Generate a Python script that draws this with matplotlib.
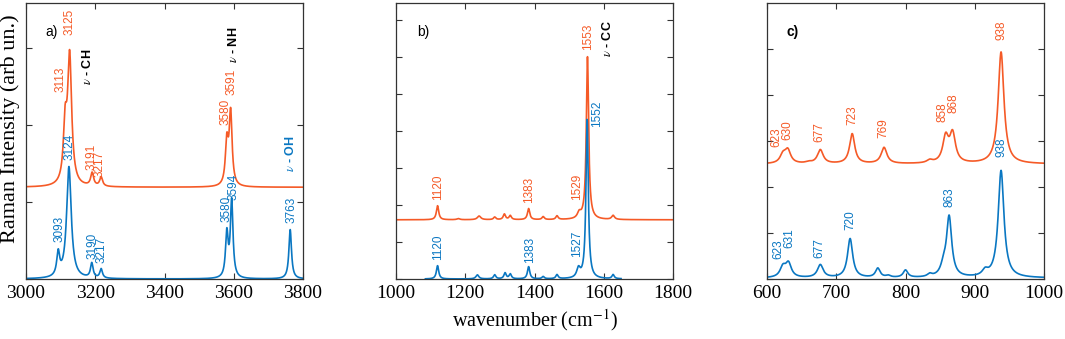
import numpy as np
import matplotlib
matplotlib.use("Agg")
import matplotlib.pyplot as plt

plt.rcParams['mathtext.fontset'] = 'stix'

ORANGE = '#F55A27'
BLUE = '#0A77C2'

# peak tables: (position cm-1, height, half width)
# panel a) 3000-3800
a_orange_base = 1.19
a_orange = [(3113, 0.7, 6), (3126, 1.66, 7), (3191, 0.17, 5), (3217, 0.12, 5),
            (3580, 0.55, 5), (3591, 0.94, 5)]
a_blue_base = 0.0
a_blue = [(3093, 0.3, 5), (3124, 1.45, 8), (3190, 0.19, 4.5), (3217, 0.12, 4.5),
          (3580, 0.57, 4.5), (3594, 1.0, 4.5), (3763, 0.64, 4.5)]

# panel b) 1000-1800
b_orange_base = 1.6
b_orange = [(1120, 0.38, 4), (1180, 0.03, 5), (1240, 0.10, 6), (1285, 0.07, 4),
            (1313, 0.15, 4), (1330, 0.11, 4), (1383, 0.30, 4), (1425, 0.08, 4),
            (1465, 0.10, 4), (1529, 0.15, 6), (1553, 4.4, 4), (1627, 0.11, 5)]
b_blue_base = 0.0
b_blue_range = (1085, 1650)
b_blue = [(1120, 0.36, 4), (1235, 0.11, 5), (1285, 0.11, 4), (1315, 0.16, 4),
          (1330, 0.13, 4), (1383, 0.33, 4), (1425, 0.06, 4), (1465, 0.11, 4),
          (1527, 0.25, 6), (1552, 4.3, 4), (1627, 0.11, 4)]

# panel c) 600-1000
c_orange_base = 2.5
c_orange = [(623, 0.18, 5), (630, 0.28, 5), (660, 0.03, 5), (677, 0.3, 5),
            (723, 0.65, 4.5), (769, 0.35, 5), (835, 0.06, 5), (858, 0.55, 5),
            (868, 0.62, 5), (938, 2.43, 5)]
c_blue_base = 0.02
c_blue = [(623, 0.22, 5), (631, 0.3, 5), (677, 0.28, 5), (720, 0.85, 4.5),
          (760, 0.2, 4), (775, 0.04, 4), (800, 0.16, 4), (835, 0.06, 4),
          (855, 0.2, 5), (863, 1.3, 4.5), (915, 0.12, 5), (938, 2.33, 5)]

# peak labels: (text, x, y of label bottom)
a_orange_labels = [("3113", 3101, 2.43), ("3125", 3127, 3.17), ("3191", 3189, 1.41),
                   ("3217", 3211, 1.32), ("3580", 3575, 2.0), ("3591", 3595, 2.39)]
a_blue_labels = [("3093", 3098, 0.48), ("3124", 3127, 1.55), ("3190", 3191, 0.26),
                 ("3217", 3218, 0.21), ("3580", 3578, 0.74), ("3594", 3598, 1.03),
                 ("3763", 3766, 0.73)]
b_orange_labels = [("1120", 1121, 2.14), ("1383", 1384, 2.05), ("1529", 1523, 2.14),
                   ("1553", 1555, 6.19)]
b_blue_labels = [("1120", 1121, 0.51), ("1383", 1387, 0.43), ("1527", 1523, 0.59),
                 ("1552", 1581, 4.1)]
c_orange_labels = [("623", 614, 2.87), ("630", 630, 3.02), ("677", 675, 2.98),
                   ("723", 723, 3.35), ("769", 768, 3.07), ("858", 854, 3.41),
                   ("868", 870, 3.61), ("938", 939, 5.2)]
c_blue_labels = [("623", 617, 0.43), ("631", 633, 0.67), ("677", 675, 0.46),
                 ("720", 720, 1.07), ("863", 863, 1.57), ("938", 939, 2.65)]


def spectrum(x, base, peaks):
    y = np.full_like(x, base)
    for pos, h, w in peaks:
        y += h * w ** 2 / ((x - pos) ** 2 + w ** 2)
    return y


def setup(ax, xlim, xticks, ylim, yticks):
    ax.set_xlim(*xlim)
    ax.set_ylim(*ylim)
    ax.set_xticks(xticks)
    ax.set_yticks(yticks)
    ax.set_yticklabels([])
    ax.tick_params(direction='in', top=True, right=True, length=4, width=0.8,
                   color='#333333', labelsize=14, pad=4)
    for lab in ax.get_xticklabels():
        lab.set_fontfamily('Liberation Serif')
    for s in ax.spines.values():
        s.set_color('#333333')
        s.set_linewidth(0.9)


def labels(ax, items, color):
    for t, x, y in items:
        ax.text(x, y, t, rotation=90, ha='center', va='bottom', color=color,
                fontsize=8.5, family='Liberation Sans')


fig = plt.figure(figsize=(10.65, 3.39), dpi=100)
W, H = 1065, 339
axes = []
for left in (26, 396, 767):
    axes.append(fig.add_axes([left / W, 60 / H, 277 / W, 276 / H]))
ax_a, ax_b, ax_c = axes

# a)
x = np.linspace(3000, 3800, 4000)
ax_a.plot(x, spectrum(x, a_orange_base, a_orange), color=ORANGE, lw=1.2)
ax_a.plot(x, spectrum(x, a_blue_base, a_blue), color=BLUE, lw=1.2)
setup(ax_a, (3000, 3800), [3000, 3200, 3400, 3600, 3800], (0, 3.58), [0, 1, 2, 3])
labels(ax_a, a_orange_labels, ORANGE)
labels(ax_a, a_blue_labels, BLUE)
ax_a.text(3177, 2.52, r"$\nu$ - CH", rotation=90, ha='center', va='bottom',
          fontsize=9, fontweight='bold', family='Liberation Sans', color='black')
ax_a.text(3600, 2.8, r"$\nu$ - NH", rotation=90, ha='center', va='bottom',
          fontsize=9, fontweight='bold', family='Liberation Sans', color='black')
ax_a.text(3763, 1.39, r"$\nu$ - OH", rotation=90, ha='center', va='bottom',
          fontsize=9, fontweight='bold', family='Liberation Sans', color=BLUE)
ax_a.text(0.069, 0.895, "a)", transform=ax_a.transAxes, ha='left', va='center',
          fontsize=10, family='Liberation Sans')

# b)
x = np.linspace(1000, 1800, 4000)
ax_b.plot(x, spectrum(x, b_orange_base, b_orange), color=ORANGE, lw=1.2)
xb = np.linspace(b_blue_range[0], b_blue_range[1], 3000)
ax_b.plot(xb, spectrum(xb, b_blue_base, b_blue), color=BLUE, lw=1.2)
setup(ax_b, (1000, 1800), [1000, 1200, 1400, 1600, 1800], (0, 7.46), list(range(8)))
labels(ax_b, b_orange_labels, ORANGE)
labels(ax_b, b_blue_labels, BLUE)
ax_b.text(1610, 6.0, r"$\nu$ - CC", rotation=90, ha='center', va='bottom',
          fontsize=9, fontweight='bold', family='Liberation Sans', color='black')
ax_b.text(0.076, 0.895, "b)", transform=ax_b.transAxes, ha='left', va='center',
          fontsize=10, family='Liberation Sans')
ax_b.set_xlabel("wavenumber (cm$^{-1}$)", fontsize=14.5, family='Liberation Serif',
                labelpad=4)

# c)
x = np.linspace(600, 1000, 4000)
ax_c.plot(x, spectrum(x, c_orange_base, c_orange), color=ORANGE, lw=1.2)
ax_c.plot(x, spectrum(x, c_blue_base, c_blue), color=BLUE, lw=1.2)
setup(ax_c, (600, 1000), [600, 700, 800, 900, 1000], (0, 6.0), list(range(6)))
labels(ax_c, c_orange_labels, ORANGE)
labels(ax_c, c_blue_labels, BLUE)
ax_c.text(0.069, 0.895, "c)", transform=ax_c.transAxes, ha='left', va='center',
          fontsize=10, fontweight='bold', family='Liberation Sans')

fig.text(10 / W, (339 - 129) / H, "Raman Intensity (arb un.)", rotation=90,
         ha='center', va='center', fontsize=16, family='Liberation Serif')

fig.savefig("out.png", dpi=100)
